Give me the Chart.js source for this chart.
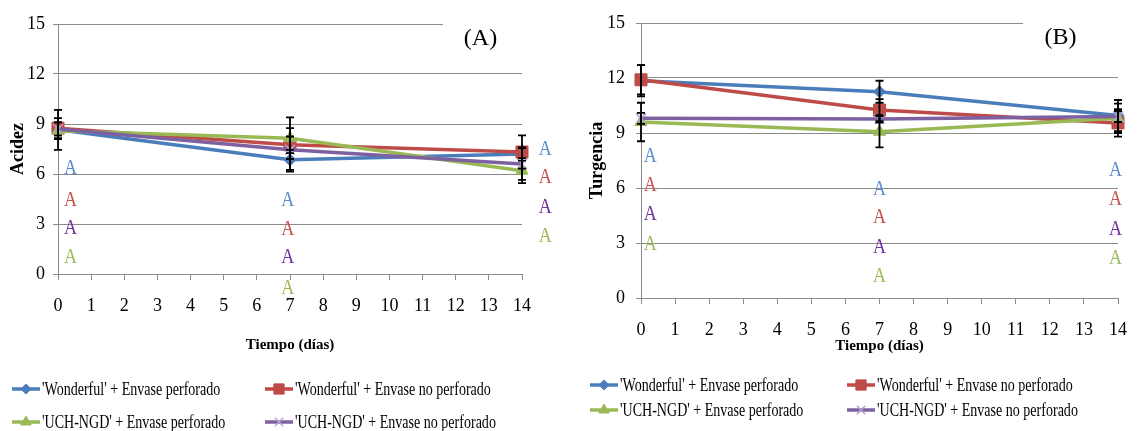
<!DOCTYPE html>
<html>
<head>
<meta charset="utf-8">
<script src="https://cdn.jsdelivr.net/npm/chart.js@4.4.0/dist/chart.umd.min.js"></script>
<style>
html, body { margin: 0; padding: 0; background: #fff; }
#wrap { position: relative; width: 1142px; height: 431px; }
canvas { position: absolute; top: 0; }
</style>
</head>
<body>
<div id="wrap">
  <canvas id="chartA" width="570" height="431" style="left:0"></canvas>
  <canvas id="chartB" width="572" height="431" style="left:570px"></canvas>
</div>
<script>
// tiempos de muestreo (dias)
var dias = [0, 7, 14];
var series = ["'Wonderful' + Envase perforado", "'Wonderful' + Envase no perforado",
              "'UCH-NGD' + Envase perforado", "'UCH-NGD' + Envase no perforado"];

// (A) Acidez
var acidezWP  = [8.65, 6.85, 7.2];
var acidezWNP = [8.75, 7.75, 7.32];
var acidezUP  = [8.6, 8.15, 6.2];
var acidezUNP = [8.7, 7.45, 6.6];
var errAcidezWP  = [1.2, 0.6, 0.4];
var errAcidezWNP = [0.6, 0.5, 1.0];
var errAcidezUP  = [0.5, 1.25, 0.75];
var errAcidezUNP = [0.4, 1.3, 0.95];

// (B) Turgencia
var turgWP  = [11.85, 11.25, 9.95];
var turgWNP = [11.9, 10.25, 9.55];
var turgUP  = [9.6, 9.07, 9.8];
var turgUNP = [9.8, 9.77, 9.9];
var errTurgWP  = [0.85, 0.6, 0.85];
var errTurgWNP = [0.8, 0.6, 0.75];
var errTurgUP  = [1.05, 0.85, 0.8];
var errTurgUNP = [0.3, 0.2, 0.3];

// letras de significancia ("A") en unidades del grafico
var letrasA = {
  x: [0.38, 6.93, 14.7],
  y: [[6.42, 4.51, 7.59], [4.54, 2.79, 5.88], [2.82, 1.09, 4.09], [1.1, -0.78, 2.36]]
};
var letrasB = {
  x: [0.27, 7.0, 13.93],
  y: [[7.82, 6.04, 7.07], [6.26, 4.48, 5.45], [4.65, 2.84, 3.86], [3.01, 1.27, 2.28]]
};

var colores = ['#4A7EBB', '#BE4B48', '#98B954', '#7D60A0'];
var coloresMarca = ['#4A7EBB', '#BE4B48', '#98B954', '#B3A2D6'];
var coloresLetra = ['#5B8BCB', '#C8504D', '#7030A0', '#9BBB59'];
var estilos = ['rectRot', 'rect', 'triangle', 'crossRot'];
var radios = [6, 8.5, 7, 7];
var serif = 'Liberation Serif, Times New Roman, serif';

var panelPlugin = {
  id: 'panel',
  afterDatasetsDraw: function(chart, args, opts) {
    var ctx = chart.ctx, sx = chart.scales.x, sy = chart.scales.y;
    ctx.save();
    ctx.strokeStyle = '#000';
    ctx.lineWidth = 1.8;
    opts.errores.forEach(function(err, i) {
      chart.data.datasets[i].data.forEach(function(p, j) {
        var px = sx.getPixelForValue(p.x);
        var top = sy.getPixelForValue(p.y + err[j]);
        var bot = sy.getPixelForValue(p.y - err[j]);
        ctx.beginPath();
        ctx.moveTo(px, top); ctx.lineTo(px, bot);
        ctx.moveTo(px - 4, top); ctx.lineTo(px + 4, top);
        ctx.moveTo(px - 4, bot); ctx.lineTo(px + 4, bot);
        ctx.stroke();
      });
    });
    ctx.restore();
  },
  afterDraw: function(chart, args, opts) {
    var ctx = chart.ctx, sx = chart.scales.x, sy = chart.scales.y;
    var area = chart.chartArea;
    ctx.save();

    // letras
    ctx.font = '22px ' + serif;
    ctx.textAlign = 'center';
    ctx.textBaseline = 'alphabetic';
    opts.letras.y.forEach(function(fila, i) {
      ctx.fillStyle = coloresLetra[i];
      fila.forEach(function(v, j) {
        ctx.save();
        ctx.translate(sx.getPixelForValue(opts.letras.x[j]), sy.getPixelForValue(v) + 7.3);
        ctx.scale(0.82, 1);
        ctx.fillText('A', 0, 0);
        ctx.restore();
      });
    });

    // etiqueta del panel
    ctx.fillStyle = '#fff';
    ctx.fillRect(area.right - opts.caja, area.top - 12, opts.caja + 4, 46);
    ctx.fillStyle = '#000';
    ctx.font = '24px ' + serif;
    ctx.fillText(opts.etiqueta, area.right - opts.etiquetaX, area.top + 21);

    // leyenda
    ctx.textAlign = 'left';
    ctx.textBaseline = 'middle';
    chart.data.datasets.forEach(function(ds, i) {
      var lx = opts.leyenda.cols[i % 2];
      var ly = opts.leyenda.filas[Math.floor(i / 2)];
      ctx.strokeStyle = ds.borderColor;
      ctx.lineWidth = 3.5;
      ctx.beginPath();
      ctx.moveTo(lx, ly); ctx.lineTo(lx + 28, ly);
      ctx.stroke();
      ctx.fillStyle = ds.pointBackgroundColor;
      ctx.strokeStyle = ds.pointBorderColor;
      ctx.lineWidth = ds.pointBorderWidth;
      Chart.helpers.drawPoint(ctx, {pointStyle: ds.pointStyle, radius: ds.pointRadius * 0.85,
        rotation: 0, borderWidth: ds.pointBorderWidth}, lx + 14, ly);
      ctx.fillStyle = '#000';
      ctx.font = '18px ' + serif;
      ctx.save();
      ctx.translate(lx + 30, ly + 1);
      ctx.scale(0.78, 1);
      ctx.fillText(ds.label, 0, 0);
      ctx.restore();
    });
    ctx.restore();
  }
};

function crearPanel(id, cfg) {
  var datasets = series.map(function(nombre, i) {
    return {
      label: nombre,
      data: dias.map(function(d, j) { return {x: d, y: cfg.valores[i][j]}; }),
      borderColor: colores[i],
      backgroundColor: colores[i],
      borderWidth: 3.5,
      pointStyle: estilos[i],
      pointRadius: radios[i],
      pointBackgroundColor: coloresMarca[i],
      pointBorderColor: coloresMarca[i],
      pointBorderWidth: i == 3 ? 1.5 : 1,
      tension: 0,
      clip: false,
      order: 4 - i
    };
  });

  return new Chart(document.getElementById(id), {
    type: 'line',
    data: {datasets: datasets},
    plugins: [panelPlugin],
    options: {
      responsive: false,
      animation: false,
      devicePixelRatio: 1,
      layout: {padding: {left: 0, top: cfg.top, right: cfg.right, bottom: cfg.bottom}},
      plugins: {
        legend: {display: false},
        tooltip: {enabled: false},
        panel: {
          errores: cfg.errores, letras: cfg.letras, etiqueta: cfg.etiqueta,
          caja: cfg.caja, etiquetaX: cfg.etiquetaX, leyenda: cfg.leyenda
        }
      },
      scales: {
        x: {
          type: 'linear', min: 0, max: 14,
          afterFit: function(s) { s.height = 80; },
          ticks: {stepSize: 1, color: '#000', padding: 15, maxRotation: 0, autoSkip: false,
                  font: {family: serif, size: 18}},
          grid: {drawOnChartArea: false, drawTicks: true, tickLength: 6, color: '#8A8A8A'},
          border: {color: '#8A8A8A'},
          title: {display: true, text: 'Tiempo (días)', color: '#000',
                  font: {family: serif, size: 15, weight: 'bold'},
                  padding: {top: 0, bottom: cfg.tituloXpad}}
        },
        y: {
          min: 0, max: 15,
          afterFit: function(s) { s.width = cfg.anchoY; },
          ticks: {stepSize: 3, color: '#000', padding: cfg.ticksYpad,
                  font: {family: serif, size: 18}},
          grid: {color: '#8A8A8A', tickLength: 5},
          border: {color: '#8A8A8A'},
          title: {display: true, text: cfg.tituloY, color: '#000',
                  font: {family: serif, size: 18, weight: 'bold'},
                  padding: {top: cfg.tituloYpad, bottom: 0}}
        }
      }
    }
  });
}

crearPanel('chartA', {
  valores: [acidezWP, acidezWNP, acidezUP, acidezUNP],
  errores: [errAcidezWP, errAcidezWNP, errAcidezUP, errAcidezUNP],
  letras: letrasA,
  tituloY: 'Acidez',
  etiqueta: '(A)', caja: 79, etiquetaX: 41.5,
  top: 24, right: 48, bottom: 77,
  anchoY: 58, ticksYpad: 8, tituloYpad: 7.7, tituloXpad: 0,
  leyenda: {cols: [12, 265], filas: [389, 422]}
});

crearPanel('chartB', {
  valores: [turgWP, turgWNP, turgUP, turgUNP],
  errores: [errTurgWP, errTurgWNP, errTurgUP, errTurgUNP],
  letras: letrasB,
  tituloY: 'Turgencia',
  etiqueta: '(B)', caja: 95, etiquetaX: 57.5,
  top: 23, right: 10, bottom: 53,
  anchoY: 71, ticksYpad: 11, tituloYpad: 16.2, tituloXpad: 23,
  leyenda: {cols: [20, 277], filas: [385, 410]}
});
</script>
</body>
</html>
